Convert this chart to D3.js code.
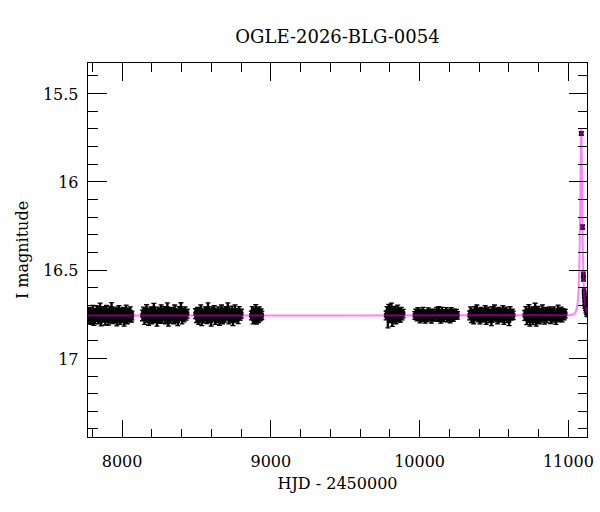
<!DOCTYPE html>
<html><head><meta charset="utf-8">
<script src="https://cdn.jsdelivr.net/npm/d3@7"></script>
<style>body{margin:0;background:#fff}svg{display:block}text{font-family:"DejaVu Serif",serif;fill:#000}</style>
</head><body><div id="chart"></div>
<script>
const title = "OGLE-2026-BLG-0054";
const xLabel = "HJD - 2450000";
const yLabel = "I magnitude";
const xDomain = [7771, 11132];
const yDomain = [15.328, 17.451];
const xMajorTicks = [8000, 9000, 10000, 11000];
const xMinorTicks = [7800,8200,8400,8600,8800,9200,9400,9600,9800,10200,10400,10600,10800];
const yMajorTicks = [15.5, 16, 16.5, 17];
const yMinorTicks = [15.4,15.6,15.7,15.8,15.9,16.1,16.2,16.3,16.4,16.6,16.7,16.8,16.9,17.1,17.2,17.3,17.4];

// photometry: [HJD-2450000, I mag, error]
const season1 = [[7772,16.75,.03],[7779,16.77,.028],[7786,16.74,.025],[7793,16.78,.03],[7800,16.76,.032],[7807,16.73,.027],[7814,16.79,.026],[7821,16.75,.03],[7828,16.77,.024],[7835,16.74,.033],[7842,16.78,.028],[7849,16.76,.025],[7856,16.72,.03],[7863,16.79,.029],[7870,16.75,.031],[7877,16.77,.026],[7884,16.74,.03],[7891,16.78,.034],[7898,16.73,.027],[7905,16.76,.03],[7912,16.79,.025],[7919,16.74,.031],[7926,16.77,.028],[7933,16.72,.033],[7940,16.78,.026],[7947,16.75,.03],[7954,16.77,.032],[7961,16.74,.027],[7968,16.79,.029],[7975,16.76,.03],[7982,16.73,.026],[7989,16.78,.031],[7996,16.75,.028],[8003,16.77,.03],[8010,16.74,.025],[8017,16.79,.03],[8024,16.76,.033],[8031,16.73,.028],[8038,16.78,.027],[8045,16.75,.03],[8052,16.77,.026],[8059,16.74,.029],[8066,16.77,.027],[8070,16.76,.025]];
const season2 = [[8140,16.76,.03],[8147,16.74,.027],[8154,16.78,.03],[8161,16.75,.025],[8168,16.73,.031],[8175,16.77,.028],[8182,16.79,.026],[8189,16.75,.03],[8196,16.74,.029],[8203,16.78,.027],[8210,16.76,.033],[8217,16.72,.028],[8224,16.77,.03],[8231,16.75,.026],[8238,16.79,.031],[8245,16.74,.027],[8252,16.76,.03],[8259,16.78,.025],[8266,16.73,.03],[8273,16.77,.032],[8280,16.75,.028],[8287,16.74,.03],[8294,16.78,.027],[8301,16.76,.026],[8308,16.72,.031],[8315,16.79,.03],[8322,16.75,.028],[8329,16.77,.033],[8336,16.74,.026],[8343,16.76,.03],[8350,16.78,.027],[8357,16.73,.029],[8364,16.77,.031],[8371,16.75,.026],[8378,16.79,.028],[8385,16.74,.03],[8392,16.76,.027],[8399,16.72,.032],[8406,16.78,.028],[8413,16.75,.03],[8420,16.77,.026],[8427,16.74,.029],[8434,16.76,.027],[8441,16.75,.025]];
const season3 = [[8497,16.75,.028],[8504,16.77,.03],[8511,16.74,.026],[8518,16.78,.031],[8525,16.76,.027],[8532,16.73,.03],[8539,16.79,.028],[8546,16.75,.025],[8553,16.77,.032],[8560,16.74,.028],[8567,16.76,.03],[8574,16.78,.026],[8581,16.72,.031],[8588,16.77,.029],[8595,16.75,.027],[8602,16.79,.03],[8609,16.74,.028],[8616,16.76,.033],[8623,16.73,.026],[8630,16.78,.03],[8637,16.75,.027],[8644,16.77,.031],[8651,16.74,.028],[8658,16.79,.026],[8665,16.76,.03],[8672,16.73,.029],[8679,16.78,.027],[8686,16.75,.032],[8693,16.77,.028],[8700,16.74,.03],[8707,16.76,.026],[8714,16.72,.031],[8721,16.78,.028],[8728,16.75,.03],[8735,16.77,.027],[8742,16.74,.033],[8749,16.79,.028],[8756,16.76,.026],[8763,16.73,.03],[8770,16.77,.027],[8777,16.75,.029],[8784,16.78,.026],[8791,16.74,.03],[8798,16.76,.027],[8805,16.75,.025]];
const season4 = [[8872,16.76,.025],[8878,16.74,.03],[8884,16.78,.028],[8890,16.75,.032],[8896,16.77,.03],[8902,16.73,.031],[8908,16.78,.029],[8914,16.75,.033],[8920,16.77,.03],[8926,16.74,.028],[8932,16.76,.03],[8938,16.75,.027],[8943,16.76,.024]];
const season5 = [[9778,16.76,.025],[9784,16.74,.03],[9790,16.77,.06],[9796,16.73,.033],[9802,16.77,.03],[9808,16.75,.035],[9814,16.72,.03],[9820,16.79,.032],[9826,16.75,.03],[9832,16.77,.028],[9838,16.74,.031],[9844,16.78,.027],[9850,16.76,.03],[9856,16.73,.028],[9862,16.77,.026],[9868,16.75,.03],[9874,16.77,.027],[9880,16.74,.026],[9886,16.76,.025],[9893,16.75,.024]];
const season6 = [[9971,16.76,.022],[9978,16.75,.025],[9985,16.77,.021],[9992,16.74,.024],[9999,16.76,.026],[10006,16.78,.022],[10013,16.75,.025],[10020,16.77,.023],[10027,16.74,.026],[10034,16.76,.022],[10041,16.78,.024],[10048,16.75,.021],[10055,16.77,.025],[10062,16.74,.023],[10069,16.76,.026],[10076,16.75,.022],[10083,16.78,.024],[10090,16.75,.025],[10097,16.76,.025],[10104,16.77,.022],[10111,16.75,.024],[10118,16.74,.026],[10125,16.77,.023],[10132,16.74,.03],[10139,16.75,.022],[10146,16.78,.024],[10153,16.74,.026],[10160,16.76,.023],[10167,16.77,.025],[10174,16.75,.022],[10181,16.74,.024],[10188,16.77,.026],[10195,16.76,.023],[10202,16.75,.025],[10209,16.78,.022],[10216,16.74,.024],[10223,16.76,.026],[10230,16.77,.023],[10237,16.75,.025],[10244,16.76,.022],[10251,16.75,.024],[10258,16.76,.021]];
const season7 = [[10339,16.76,.025],[10346,16.74,.028],[10353,16.77,.03],[10360,16.75,.026],[10367,16.78,.028],[10374,16.74,.03],[10381,16.76,.027],[10388,16.73,.029],[10395,16.77,.026],[10402,16.75,.03],[10409,16.78,.028],[10416,16.74,.025],[10423,16.76,.03],[10430,16.77,.027],[10437,16.75,.029],[10444,16.73,.026],[10451,16.78,.03],[10458,16.76,.028],[10465,16.74,.027],[10472,16.77,.03],[10479,16.75,.026],[10486,16.79,.028],[10493,16.74,.03],[10500,16.76,.027],[10507,16.73,.029],[10514,16.77,.026],[10521,16.75,.03],[10528,16.78,.028],[10535,16.74,.025],[10542,16.76,.03],[10549,16.77,.027],[10556,16.75,.029],[10563,16.73,.026],[10570,16.78,.03],[10577,16.76,.028],[10584,16.74,.027],[10591,16.77,.03],[10598,16.75,.026],[10605,16.79,.028],[10612,16.74,.03],[10619,16.76,.027],[10626,16.75,.025],[10633,16.76,.024]];
const season8 = [[10710,16.76,.028],[10717,16.74,.03],[10724,16.78,.032],[10731,16.75,.029],[10738,16.73,.031],[10745,16.79,.03],[10752,16.76,.033],[10759,16.74,.028],[10766,16.78,.03],[10773,16.75,.031],[10780,16.72,.029],[10787,16.79,.03],[10794,16.76,.028],[10801,16.74,.031],[10808,16.78,.027],[10815,16.75,.03],[10822,16.77,.028],[10829,16.73,.03],[10836,16.76,.027],[10843,16.78,.029],[10850,16.74,.026],[10857,16.77,.03],[10864,16.75,.028],[10871,16.76,.027],[10878,16.74,.029],[10885,16.78,.026],[10892,16.75,.03],[10899,16.77,.027],[10906,16.74,.028],[10913,16.76,.026],[10920,16.78,.03],[10927,16.75,.027],[10934,16.73,.028],[10941,16.77,.026],[10948,16.76,.029],[10955,16.74,.027],[10962,16.77,.026],[10969,16.75,.028],[10976,16.76,.025],[10983,16.75,.024]];
const season9 = [[11090,15.73,.01],[11098,16.26,.012],[11104,16.53,.015],[11105,16.55,.015],[11109,16.62,.018],[11110,16.64,.018],[11112,16.66,.02],[11113,16.68,.02],[11115,16.70,.02],[11117,16.69,.022],[11119,16.71,.022],[11122,16.72,.025],[11125,16.73,.025],[11128,16.74,.025],[11131,16.74,.027]];

// model light curve: [HJD-2450000, I mag]
const modelCurve = [[7771,16.76],[11000,16.759],[11020,16.758],[11045,16.749],[11060,16.72],[11068,16.67],[11073,16.60],[11077,16.48],[11080,16.35],[11082,16.23],[11083,16.164],[11084,16.09],[11085,16.005],[11086,15.92],[11087,15.84],[11088,15.77],[11089,15.72],[11090,15.703],[11091,15.72],[11092,15.77],[11093,15.84],[11094,15.92],[11095,16.005],[11096,16.09],[11097,16.164],[11098,16.23],[11100,16.35],[11103,16.48],[11107,16.60],[11112,16.67],[11120,16.72],[11132,16.745]];

const W = 600, H = 512;
const L = 87.5, R = 587.5, T = 62.5, B = 437.5;
const svg = d3.select("#chart").append("svg").attr("width", W).attr("height", H);

const x = d3.scaleLinear().domain(xDomain).range([L, R]);
const y = d3.scaleLinear().domain(yDomain).range([T, B]);

svg.append("defs").append("clipPath").attr("id", "clip")
  .append("rect").attr("x", L).attr("y", T).attr("width", R - L).attr("height", B - T);

const plot = svg.append("g").attr("clip-path", "url(#clip)");
const data = [].concat(season1, season2, season3, season4, season5, season6, season7, season8, season9);

const pts = plot.append("g").selectAll("g").data(data).join("g");
pts.append("line").attr("x1", d => x(d[0])).attr("x2", d => x(d[0]))
  .attr("y1", d => y(d[1] - d[2])).attr("y2", d => y(d[1] + d[2]))
  .attr("stroke", "#000").attr("stroke-width", 2.4);
pts.append("line").attr("x1", d => x(d[0]) - 2.5).attr("x2", d => x(d[0]) + 2.5)
  .attr("y1", d => y(d[1] - d[2])).attr("y2", d => y(d[1] - d[2]))
  .attr("stroke", "#000").attr("stroke-width", 1.3);
pts.append("line").attr("x1", d => x(d[0]) - 2.5).attr("x2", d => x(d[0]) + 2.5)
  .attr("y1", d => y(d[1] + d[2])).attr("y2", d => y(d[1] + d[2]))
  .attr("stroke", "#000").attr("stroke-width", 1.3);
pts.append("rect").attr("x", d => x(d[0]) - 2.2).attr("y", d => y(d[1]) - 2.2)
  .attr("width", 4.4).attr("height", 4.4).attr("fill", "#000");

plot.append("path").datum(modelCurve)
  .attr("d", d3.line().x(d => x(d[0])).y(d => y(d[1])).curve(d3.curveMonotoneX))
  .attr("fill", "none").attr("stroke", "#ff00ff").attr("stroke-opacity", 0.5).attr("stroke-width", 2);

// frame
svg.append("rect").attr("x", L).attr("y", T).attr("width", R - L).attr("height", B - T)
  .attr("fill", "none").attr("stroke", "#000").attr("stroke-width", 1);

function styleAxis(g) {
  g.select(".domain").remove();
  g.selectAll(".tick line").attr("stroke", "#000").attr("shape-rendering", "crispEdges");
  g.selectAll("text").style("font-family", '"DejaVu Serif", serif').style("font-size", "16px").attr("fill", "#000");
}
// bottom
svg.append("g").attr("transform", `translate(0,${B})`)
  .call(d3.axisBottom(x).tickValues(xMajorTicks).tickFormat(d3.format("d")).tickSize(-18).tickPadding(18)).call(styleAxis);
svg.append("g").attr("transform", `translate(0,${B})`)
  .call(d3.axisBottom(x).tickValues(xMinorTicks).tickFormat("").tickSize(-9)).call(styleAxis);
// top
svg.append("g").attr("transform", `translate(0,${T})`)
  .call(d3.axisTop(x).tickValues(xMajorTicks).tickFormat("").tickSize(-18)).call(styleAxis);
svg.append("g").attr("transform", `translate(0,${T})`)
  .call(d3.axisTop(x).tickValues(xMinorTicks).tickFormat("").tickSize(-9)).call(styleAxis);
// left
const gl = svg.append("g").attr("transform", `translate(${L},0)`)
  .call(d3.axisLeft(y).tickValues(yMajorTicks).tickFormat(d => String(d)).tickSize(-19).tickPadding(9)).call(styleAxis);
gl.selectAll("text").attr("dy", "0.4em");
svg.append("g").attr("transform", `translate(${L},0)`)
  .call(d3.axisLeft(y).tickValues(yMinorTicks).tickFormat("").tickSize(-10)).call(styleAxis);
// right
svg.append("g").attr("transform", `translate(${R},0)`)
  .call(d3.axisRight(y).tickValues(yMajorTicks).tickFormat("").tickSize(-19)).call(styleAxis);
svg.append("g").attr("transform", `translate(${R},0)`)
  .call(d3.axisRight(y).tickValues(yMinorTicks).tickFormat("").tickSize(-10)).call(styleAxis);

svg.append("text").attr("x", (L + R) / 2).attr("y", 43).attr("text-anchor", "middle")
  .style("font-size", "18px").text(title);
svg.append("text").attr("x", (L + R) / 2).attr("y", 489).attr("text-anchor", "middle")
  .style("font-size", "16px").text(xLabel);
svg.append("text").attr("transform", `translate(28,${(T + B) / 2}) rotate(-90)`).attr("text-anchor", "middle")
  .style("font-size", "16px").text(yLabel);
</script></body></html>
